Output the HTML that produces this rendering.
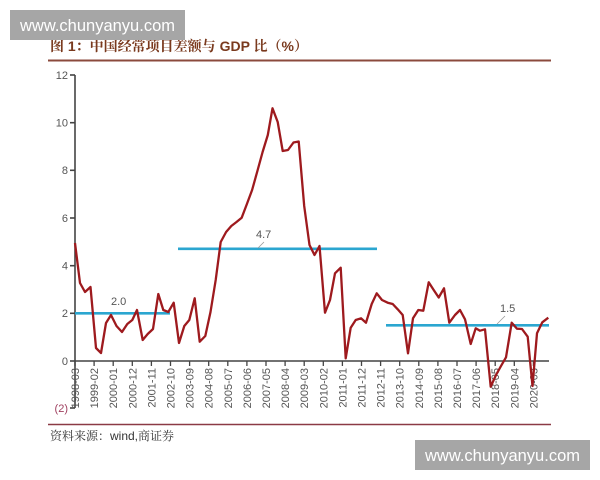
<!DOCTYPE html>
<html><head><meta charset="utf-8"><style>
html,body{margin:0;padding:0;background:#fff;}
svg{display:block;}
text{font-family:"Liberation Sans","Noto Sans CJK SC",sans-serif;}
</style></head><body>
<svg width="600" height="480" viewBox="0 0 600 480" xmlns="http://www.w3.org/2000/svg">
<rect width="600" height="480" fill="#fff"/>
<!-- title -->
<text x="50" y="51" font-size="14" font-weight="bold" fill="#7a3a1e" style="font-family:'Liberation Sans','Noto Serif CJK SC',serif">图 1：中国经常项目差额与 GDP 比（%）</text>
<line x1="48" y1="60.5" x2="551" y2="60.5" stroke="#8b4a3c" stroke-width="2"/>
<!-- y axis -->
<g stroke="#444" stroke-width="1.6">
<line x1="75" y1="75" x2="75" y2="408"/>
<line x1="70" y1="75" x2="75" y2="75"/>
<line x1="70" y1="122.7" x2="75" y2="122.7"/>
<line x1="70" y1="170.3" x2="75" y2="170.3"/>
<line x1="70" y1="218" x2="75" y2="218"/>
<line x1="70" y1="265.7" x2="75" y2="265.7"/>
<line x1="70" y1="313.3" x2="75" y2="313.3"/>
<line x1="70" y1="361" x2="75" y2="361"/>
<line x1="70" y1="408" x2="75" y2="408"/>
<line x1="75" y1="361" x2="549" y2="361"/>
</g>
<g font-size="11" fill="#555" text-anchor="end">
<text x="68" y="79">12</text>
<text x="68" y="126.5">10</text>
<text x="68" y="174">8</text>
<text x="68" y="222">6</text>
<text x="68" y="269.5">4</text>
<text x="68" y="317">2</text>
<text x="68" y="365">0</text>
<text x="68" y="412" fill="#a04060">(2)</text>
</g>
<!-- x ticks -->
<g stroke="#444" stroke-width="1.3">
<line x1="75" y1="361" x2="75" y2="366"/><line x1="94.1" y1="361" x2="94.1" y2="366"/><line x1="113.2" y1="361" x2="113.2" y2="366"/><line x1="132.3" y1="361" x2="132.3" y2="366"/><line x1="151.4" y1="361" x2="151.4" y2="366"/><line x1="170.5" y1="361" x2="170.5" y2="366"/><line x1="189.6" y1="361" x2="189.6" y2="366"/><line x1="208.7" y1="361" x2="208.7" y2="366"/><line x1="227.8" y1="361" x2="227.8" y2="366"/><line x1="246.9" y1="361" x2="246.9" y2="366"/><line x1="266" y1="361" x2="266" y2="366"/><line x1="285.1" y1="361" x2="285.1" y2="366"/><line x1="304.2" y1="361" x2="304.2" y2="366"/><line x1="323.3" y1="361" x2="323.3" y2="366"/><line x1="342.4" y1="361" x2="342.4" y2="366"/><line x1="361.5" y1="361" x2="361.5" y2="366"/><line x1="380.6" y1="361" x2="380.6" y2="366"/><line x1="399.7" y1="361" x2="399.7" y2="366"/><line x1="418.8" y1="361" x2="418.8" y2="366"/><line x1="437.9" y1="361" x2="437.9" y2="366"/><line x1="457" y1="361" x2="457" y2="366"/><line x1="476.1" y1="361" x2="476.1" y2="366"/><line x1="495.2" y1="361" x2="495.2" y2="366"/><line x1="514.3" y1="361" x2="514.3" y2="366"/><line x1="533.4" y1="361" x2="533.4" y2="366"/>
</g>
<g font-size="11" fill="#555" text-anchor="end">
<text transform="translate(79,368) rotate(-90)">1998-03</text>
<text transform="translate(98.1,368) rotate(-90)">1999-02</text>
<text transform="translate(117.2,368) rotate(-90)">2000-01</text>
<text transform="translate(136.3,368) rotate(-90)">2000-12</text>
<text transform="translate(155.4,368) rotate(-90)">2001-11</text>
<text transform="translate(174.5,368) rotate(-90)">2002-10</text>
<text transform="translate(193.6,368) rotate(-90)">2003-09</text>
<text transform="translate(212.7,368) rotate(-90)">2004-08</text>
<text transform="translate(231.8,368) rotate(-90)">2005-07</text>
<text transform="translate(250.9,368) rotate(-90)">2006-06</text>
<text transform="translate(270,368) rotate(-90)">2007-05</text>
<text transform="translate(289.1,368) rotate(-90)">2008-04</text>
<text transform="translate(308.2,368) rotate(-90)">2009-03</text>
<text transform="translate(327.3,368) rotate(-90)">2010-02</text>
<text transform="translate(346.4,368) rotate(-90)">2011-01</text>
<text transform="translate(365.5,368) rotate(-90)">2011-12</text>
<text transform="translate(384.6,368) rotate(-90)">2012-11</text>
<text transform="translate(403.7,368) rotate(-90)">2013-10</text>
<text transform="translate(422.8,368) rotate(-90)">2014-09</text>
<text transform="translate(441.9,368) rotate(-90)">2015-08</text>
<text transform="translate(461,368) rotate(-90)">2016-07</text>
<text transform="translate(480.1,368) rotate(-90)">2017-06</text>
<text transform="translate(499.2,368) rotate(-90)">2018-05</text>
<text transform="translate(518.3,368) rotate(-90)">2019-04</text>
<text transform="translate(537.4,368) rotate(-90)">2020-03</text>
</g>
<!-- blue average lines -->
<g stroke="#2ba6d0" stroke-width="2.6">
<line x1="75" y1="313.3" x2="170" y2="313.3"/>
<line x1="178" y1="248.8" x2="377" y2="248.8"/>
<line x1="386" y1="325.3" x2="549" y2="325.3"/>
</g>
<g font-size="11" fill="#555">
<text x="111" y="305">2.0</text>
<text x="256" y="238">4.7</text>
<text x="500" y="312">1.5</text>
</g>
<g stroke="#999" stroke-width="0.8">
<line x1="258" y1="248" x2="264" y2="242"/>
<line x1="497" y1="324" x2="505" y2="316"/>
</g>
<!-- series -->
<polyline fill="none" stroke="#9e1a1e" stroke-width="2.3" stroke-linejoin="round" points="75,243 80,283 85,292 90.5,287 96,348 101,353 106,323 111,315 116.5,326 122,332 127.3,324 132.3,320 137,310 142.7,340 147.7,334 153,329 158.3,294 163.3,310 168.3,312 173.7,302.7 179,343 184.3,326 189.3,320 194.7,298.3 199.7,341.7 205.3,336 210.5,312 215.7,280 220.7,242 226.1,232 231.3,226 236.5,222 241.7,217.7 246.9,204 252.1,190 257.4,171 262.6,152 267.8,135 272.5,108.3 277.7,122 282.7,151 288,150 293.5,142.5 298.7,141.5 304.2,206 309.5,245 314.5,255 319.5,246 325,312.7 330,300 335,273.3 340.7,267.7 345.7,358.3 350.7,327.7 355.7,320 361,318.3 366,322.7 371.7,304 376.7,293.3 382,300 387.7,302.7 392.7,304 397.7,309.3 402.7,315 408,353.3 413,318.3 418.3,310 423.3,310.7 428.7,282.3 433.7,290 438.7,297.5 444,288.3 449.3,322.7 455,315 460,310 465,319.3 470.7,344 475.7,328.3 480,330.7 485,329.3 490.7,386.7 496,375 501,366 506,357.3 511.7,322.7 517,328.7 522,329 527.7,336.7 532.5,386 537,333.3 542.3,322.3 548.3,317.7"/>
<!-- bottom rule and source -->
<line x1="48" y1="424.5" x2="551" y2="424.5" stroke="#8b3a45" stroke-width="1.5"/>
<text x="50" y="440" font-size="12" fill="#333" style="font-family:'Liberation Sans','Noto Serif CJK SC',serif">资料来源：wind,商证券</text>
<!-- watermarks -->
<rect x="10" y="10" width="175" height="30" fill="#a6a6a6"/>
<text x="97.5" y="31" font-size="16.5" fill="#fff" text-anchor="middle">www.chunyanyu.com</text>
<rect x="415" y="440" width="175" height="30" fill="#a6a6a6"/>
<text x="502.5" y="461" font-size="16.5" fill="#fff" text-anchor="middle">www.chunyanyu.com</text>
</svg>
</body></html>
